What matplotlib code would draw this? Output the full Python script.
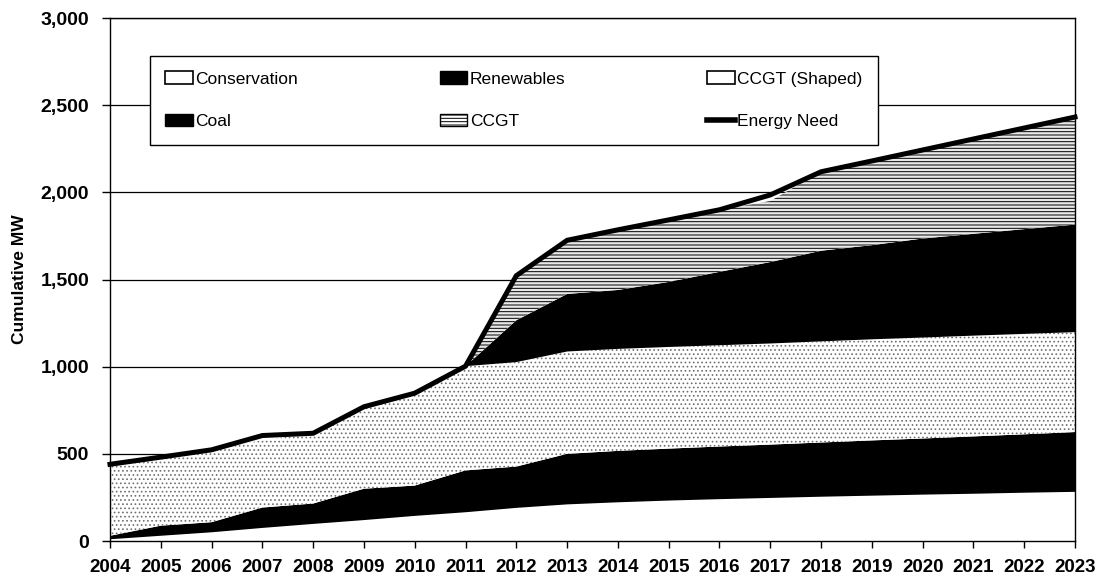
import numpy as np
import matplotlib
matplotlib.use('Agg')
import matplotlib.pyplot as plt
from matplotlib.patches import Patch
from matplotlib.lines import Line2D
from matplotlib.ticker import FuncFormatter, MultipleLocator

plt.rcParams['font.family'] = ['Liberation Sans', 'DejaVu Sans']
plt.rcParams['hatch.linewidth'] = 0.7

# data (MW added each year, stacked)
years = list(range(2004, 2024))
conservation = [10, 30, 50, 75, 98, 120, 144, 165, 190, 210, 222, 232, 240, 247, 254, 260, 266, 271, 277, 282]
renewables = [20, 58, 58, 117, 117, 180, 174, 240, 237, 290, 295, 298, 302, 306, 311, 317, 322, 329, 335, 343]
ccgt_shaped = [410, 393, 415, 386, 403, 470, 530, 598, 599, 587, 585, 583, 581, 580, 580, 580, 579, 578, 576, 573]
coal = [0, 0, 0, 0, 0, 0, 0, 0, 240, 330, 338, 373, 421, 467, 520, 540, 568, 584, 601, 617]
ccgt = [0, 0, 0, 0, 0, 0, 0, 0, 256, 308, 345, 356, 356, 350, 453, 483, 508, 544, 580, 617]
energy_need = [440, 481, 523, 605, 618, 770, 848, 1003, 1522, 1725, 1785, 1842, 1900, 1985, 2118, 2180, 2243, 2306, 2369, 2432]

fig = plt.figure(figsize=(10.99, 5.8), dpi=100)
ax = fig.add_axes([110/1099, 39/580, 965/1099, 523/580])

polys = ax.stackplot(years, conservation, renewables, ccgt_shaped, coal, ccgt,
                     colors=['white', 'black', 'white', 'black', '#e8e8e8'],
                     edgecolor='none', linewidth=0, zorder=2)
# patterns
polys[2].set_hatch('....')
polys[2].set_edgecolor('#707070')
polys[4].set_hatch('-----')
polys[4].set_edgecolor('black')

ax.plot(years, energy_need, color='black', lw=3.6, zorder=4, clip_on=False,
        solid_joinstyle='miter')

ax.set_xlim(2004, 2023)
ax.set_ylim(0, 3000)
ax.yaxis.set_major_locator(MultipleLocator(500))
ax.yaxis.set_major_formatter(FuncFormatter(lambda v, p: f'{v:,.0f}'))
ax.set_xticks(years)
ax.grid(axis='y', color='black', lw=0.9, zorder=0)
ax.set_axisbelow(True)

ax.tick_params(axis='y', length=6, width=1, pad=9, labelsize=14)
ax.tick_params(axis='x', length=5, width=1, pad=8, labelsize=13.5)
for t in ax.get_xticklabels() + ax.get_yticklabels():
    t.set_fontweight('bold')
for s in ax.spines.values():
    s.set_linewidth(1.0)
    s.set_zorder(5)

ax.set_ylabel('Cumulative MW', fontsize=12.5, fontweight='bold')
ax.yaxis.set_label_coords(-0.086, 0.5)

handles = [
    Patch(facecolor='white', edgecolor='black', lw=1.2),
    Patch(facecolor='black', edgecolor='black'),
    Patch(facecolor='white', edgecolor='black', lw=1.2),
    Patch(facecolor='black', edgecolor='black'),
    Patch(facecolor='white', edgecolor='black', hatch='-----', lw=1),
    Line2D([0], [0], color='black', lw=4),
]
names = ['Conservation', 'Renewables', 'CCGT (Shaped)', 'Coal', 'CCGT', 'Energy Need']
# matplotlib fills legend columns first
order = [0, 3, 1, 4, 2, 5]
leg = ax.legend([handles[i] for i in order], [names[i] for i in order],
                ncol=3, loc='lower left', mode='expand',
                bbox_to_anchor=(0.041, 0.757, 0.755, 0.166),
                fontsize=12.5, frameon=True, fancybox=False, edgecolor='black',
                framealpha=1, borderpad=0.9, labelspacing=1.6,
                handlelength=1.6, handleheight=0.7, handletextpad=0.15,
                borderaxespad=0)
leg.get_frame().set_linewidth(1.0)
leg.set_zorder(6)

fig.savefig('out.png', dpi=100)
